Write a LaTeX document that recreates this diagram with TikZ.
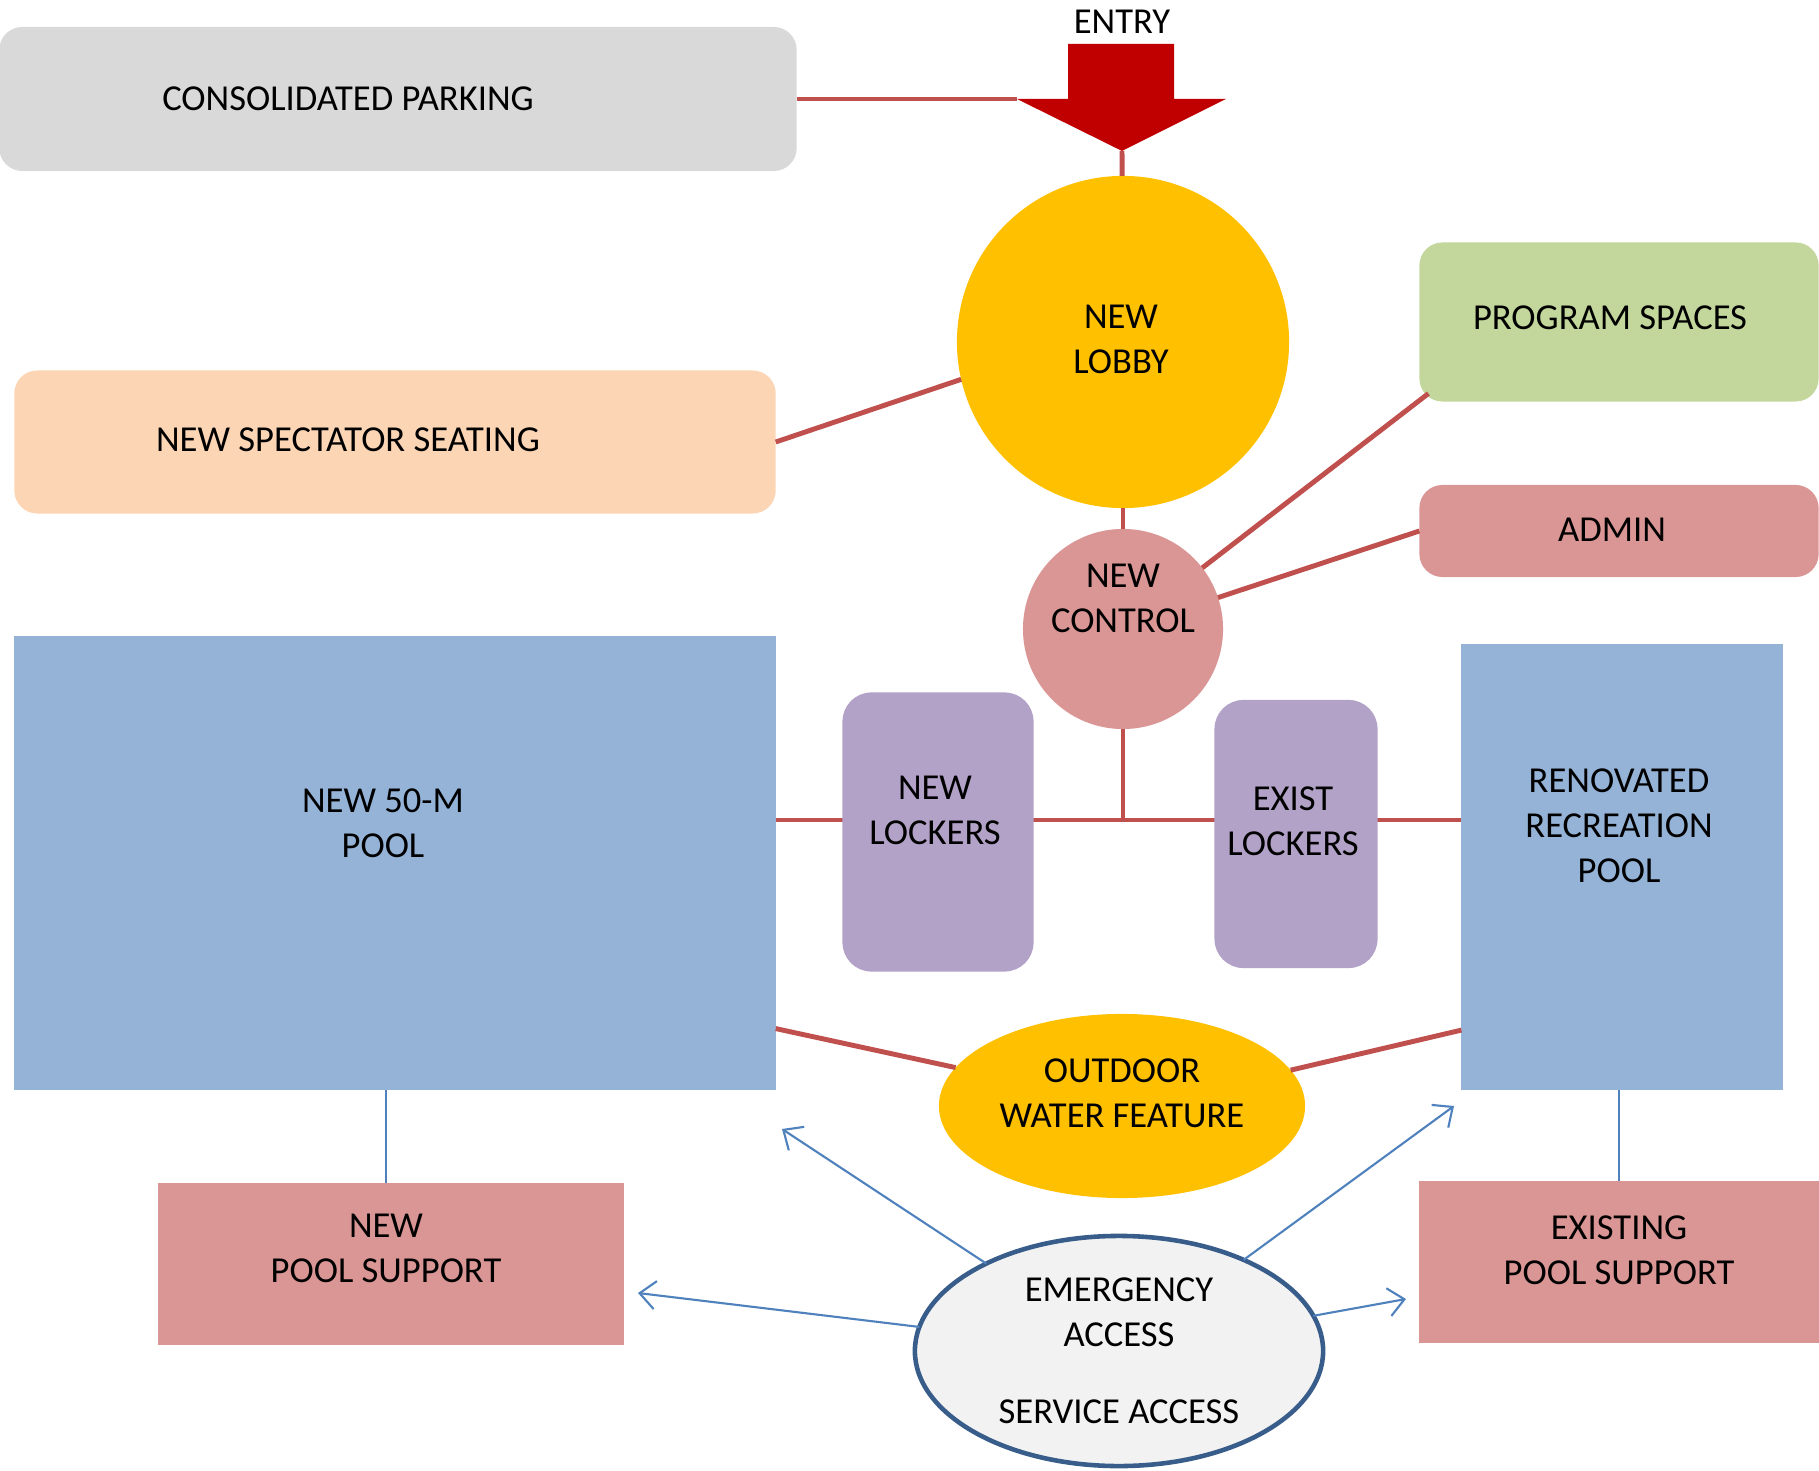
\documentclass[tikz,border=0pt]{standalone}
\usepackage{fontspec}
\setmainfont{Carlito}
\usetikzlibrary{shapes.geometric,arrows.meta}
\definecolor{parkgray}{HTML}{D9D9D9}
\definecolor{peach}{HTML}{FCD5B5}
\definecolor{sage}{HTML}{C3D69B}
\definecolor{rose}{HTML}{D99694}
\definecolor{poolblue}{HTML}{95B3D7}
\definecolor{lilac}{HTML}{B3A2C7}
\definecolor{gold}{HTML}{FFC000}
\definecolor{linkred}{HTML}{C0504D}
\definecolor{entryred}{HTML}{C00000}
\definecolor{accblue}{HTML}{4F81BD}
\definecolor{rimblue}{HTML}{385D8A}
\definecolor{mist}{HTML}{F2F2F2}
\tikzset{
  zone/.style={draw=none, inner sep=0, outer sep=0, rounded corners=0.23cm},
  block/.style={draw=none, inner sep=0, outer sep=0},
  blob/.style={circle, draw=none, inner sep=0, outer sep=0},
  oval/.style={ellipse, draw=none, inner sep=0, outer sep=0},
  txt/.style={align=center, inner sep=0},
  link/.style={draw=linkred, line width=1.4pt},
  feed/.style={draw=accblue, line width=0.7pt},
  access/.style={draw=accblue, line width=0.6pt, -{Straight Barb[length=4.5pt,width=8pt]}}
}
\begin{document}
\fontsize{10.4pt}{12.8pt}\selectfont
\begin{tikzpicture}[x=0.01cm, y=-0.01cm]
      \useasboundingbox (0,0) rectangle (1819,1471);
      % rooms
      \node (parking) [zone, fill=parkgray, minimum width=7.97cm, minimum height=1.44cm] at (398,99) {};
      \node (spect) [zone, fill=peach, minimum width=7.61cm, minimum height=1.43cm] at (395,442) {};
      \node (prog) [zone, fill=sage, minimum width=3.99cm, minimum height=1.59cm] at (1619,322) {};
      \node (admin) [zone, fill=rose, minimum width=3.99cm, minimum height=0.92cm] at (1619,531) {};
      \node (lobby) [blob, fill=gold, minimum size=3.32cm] at (1123,342) {};
      \node (ctrl) [blob, fill=rose, minimum size=2.0cm] at (1123,629) {};
      \node (newpool) [block, fill=poolblue, minimum width=7.61cm, minimum height=4.53cm] at (395,863) {};
      \node (reno) [block, fill=poolblue, minimum width=3.21cm, minimum height=4.46cm] at (1622,867) {};
      \node (water) [oval, fill=gold, minimum width=3.66cm, minimum height=1.84cm] at (1122,1106) {};
      \node (newsupp) [block, fill=rose, minimum width=4.65cm, minimum height=1.61cm] at (391,1264) {};
      \node (exsupp) [block, fill=rose, minimum width=4.0cm, minimum height=1.61cm] at (1619,1262) {};
      \node (emerg) [oval, fill=mist, draw=rimblue, line width=1.3pt, minimum width=4.08cm, minimum height=2.30cm, align=center]
            at (1119,1351) {EMERGENCY\\ACCESS\\[9pt]SERVICE ACCESS};
      % entry arrow
      \coordinate (headL) at (1017,99);
      \coordinate (tip) at (1122,151);
      \fill[entryred] (1068,44) -- (1174,44) -- (1174,99) -- (1226,99) -- (tip) -- (headL) -- (1068,99) -- cycle;
      \node (entry) [txt] at (1122,22) {ENTRY};
      % links
      \coordinate (bus) at (1123,820);
      \draw[link] (parking.east) -- (headL);
      \draw[link] (tip) -- (lobby);
      \draw[link] (spect.east) -- (lobby.193);
      \draw[link] (lobby) -- (ctrl);
      \draw[link] (ctrl) -- ([shift={(9,-8)}]prog.south west);
      \draw[link] (ctrl) -- (admin.west);
      \draw[link] (ctrl) -- (bus);
      \draw[link] (newpool.east |- bus) -- (reno.west |- bus);
      \draw[link] ([yshift=0.61cm]newpool.south east) -- (water.167);
      \draw[link] (water.12) -- ([yshift=0.6cm]reno.south west);
      \draw[feed] ([xshift=-0.05cm]newsupp.north) -- ([xshift=-0.05cm]newsupp.north |- newpool.south);
      \draw[feed] (exsupp.north) -- (exsupp.north |- reno.south);
      % lockers sit on the bus line
      \node (newlock) [zone, fill=lilac, rounded corners=0.29cm, minimum width=1.91cm, minimum height=2.79cm] at (938,832) {};
      \node (exlock) [zone, fill=lilac, rounded corners=0.29cm, minimum width=1.63cm, minimum height=2.68cm] at (1296,834) {};
      % access arrows
      \coordinate (a1) at (782,1129);
      \coordinate (a2) at (638,1293);
      \coordinate (a3) at (1454,1106);
      \coordinate (a4) at (1406,1299);
      \draw[access] (emerg) -- (a1);
      \draw[access] (emerg) -- (a2);
      \draw[access] (emerg) -- (a3);
      \draw[access] (emerg) -- (a4);
      % labels
      \node (tparking) [txt] at (348,99) {CONSOLIDATED PARKING};
      \node (tspect) [txt] at (348,440) {NEW SPECTATOR SEATING};
      \node (tprog) [txt] at (1610,318) {PROGRAM SPACES};
      \node (tadmin) [txt] at (1612,530) {ADMIN};
      \node (tlobby) [txt] at (1121,339) {NEW\\LOBBY};
      \node (tctrl) [txt] at (1123,598) {NEW\\CONTROL};
      \node (tnewpool) [txt] at (383,823) {NEW 50-M\\POOL};
      \node (tnewlock) [txt] at (935,810) {NEW\\LOCKERS};
      \node (texlock) [txt] at (1293,821) {EXIST\\LOCKERS};
      \node (treno) [txt] at (1619,826) {RENOVATED\\RECREATION\\POOL};
      \node (twater) [txt] at (1122,1093) {OUTDOOR\\WATER FEATURE};
      \node (tnewsupp) [txt] at (386,1248) {NEW\\POOL SUPPORT};
      \node (texsupp) [txt] at (1619,1250) {EXISTING\\POOL SUPPORT};
\end{tikzpicture}
\end{document}
